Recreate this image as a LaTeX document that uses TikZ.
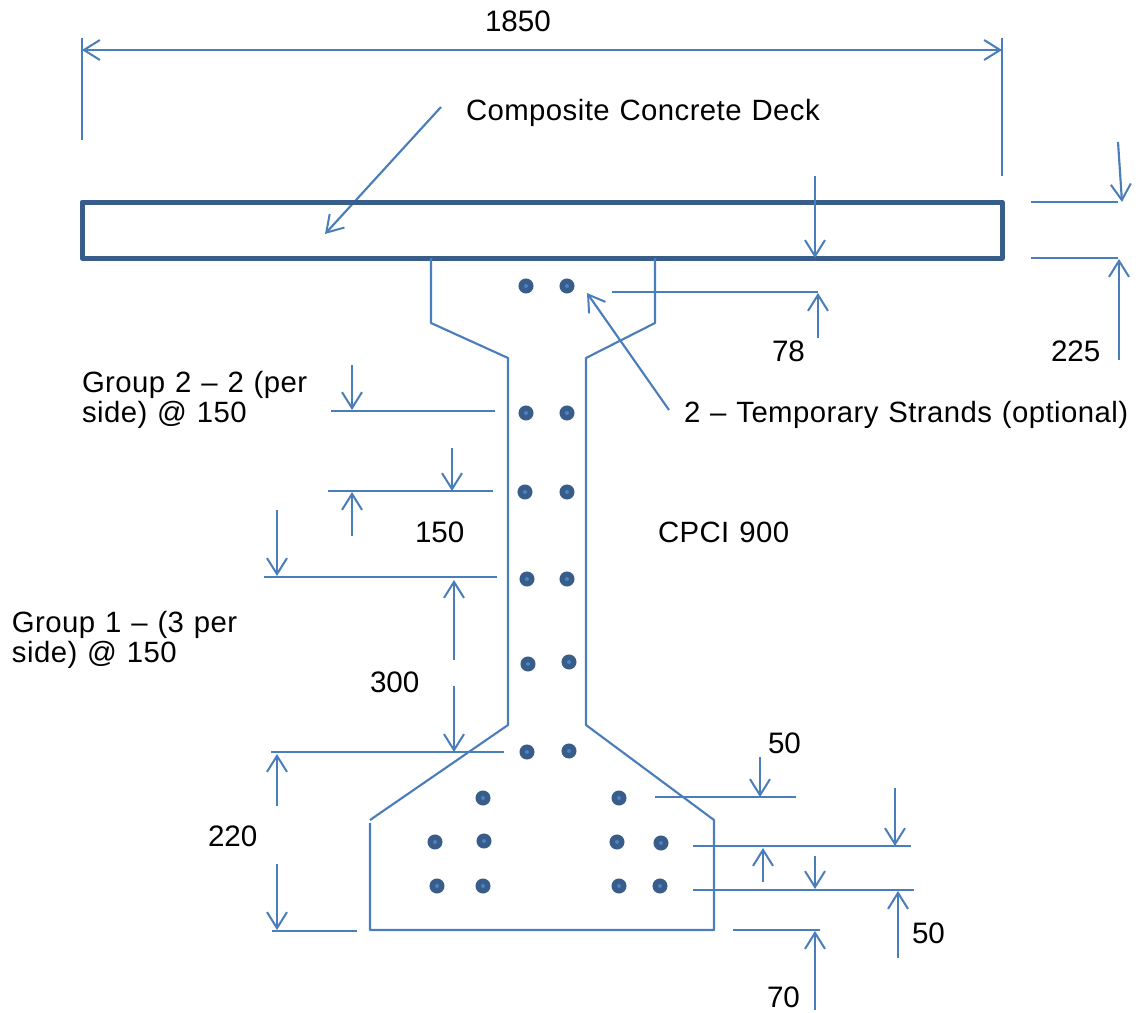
\documentclass[tikz,border=0pt]{standalone}
\usepackage{fontspec}
\setmainfont{Liberation Sans}
\newfontfamily\spacedfont[LetterSpace=1.5,WordSpace=1.15]{Liberation Sans}
\newcommand{\wordfont}{\spacedfont\fontsize{22pt}{24pt}\selectfont}
\usetikzlibrary{arrows.meta}
\definecolor{lineblue}{HTML}{4A7EBB}
\definecolor{deepblue}{HTML}{385D8A}
\definecolor{coreblue}{HTML}{4F81BD}
\tikzset{
  dimline/.style={draw=lineblue,line width=1.6pt},
  dimarrow/.style={dimline,-{Straight Barb[length=12pt,width=15pt,line width=1.5pt]}},
  dimboth/.style={dimline,{Straight Barb[length=12pt,width=15pt,line width=1.5pt]}-{Straight Barb[length=12pt,width=15pt,line width=1.5pt]}},
  deckbox/.style={draw=deepblue,line width=3.75pt,line join=round},
  numlabel/.style={anchor=base west,inner sep=0pt,outer sep=0pt,text=black,font=\fontsize{22.2pt}{24pt}\selectfont},
  wordlabel/.style={anchor=base west,inner sep=0pt,outer sep=0pt,text=black,font=\wordfont},
  strand/.style={circle,fill=deepblue,inner sep=0pt,minimum size=11.3pt},
  strandcore/.style={circle,fill=coreblue,inner sep=0pt,minimum size=3pt}
}
\newcommand{\strandat}[2]{\node[strand] at (#1,#2) {}; \node[strandcore] at (#1,#2) {};}
\begin{document}
\begin{tikzpicture}[x=0.75pt,y=-0.75pt]
\useasboundingbox (0,0) rectangle (1138,1013);
% top dimension
\draw[dimline] (82,38) -- (82,140);
\draw[dimline] (1002,38) -- (1002,176);
\draw[dimboth] (82,50) -- (1002,50);
\draw[dimarrow] (441,107) -- (325,234);
% deck
\draw[deckbox] (82,202) rectangle (1002,258);
\draw[dimarrow] (815,176) -- (815,258);
\draw[dimline] (1031,202) -- (1118,202);
\draw[dimarrow] (1118,142) -- (1122,202);
\draw[dimline] (1031,258) -- (1118,258);
\draw[dimarrow] (1119,360) -- (1119,259);
% girder outline
\draw[dimline,line join=round] (431,258) -- (431,323) -- (508,358) -- (508,725) -- (370,820);
\draw[dimline,line join=round] (370,823) -- (370,930) -- (714,930) -- (714,820) -- (586,725) -- (586,358) -- (655,323) -- (655,258);
% temporary strands
\draw[dimarrow] (669,410) -- (587,293);
\draw[dimline] (612,292) -- (818,292);
\draw[dimarrow] (818,338) -- (818,293);
% left dimensions
\draw[dimline] (331,411) -- (495,411);
\draw[dimarrow] (352,365) -- (352,410);
\draw[dimline] (328,491) -- (493,491);
\draw[dimarrow] (452,448) -- (452,491);
\draw[dimarrow] (352,536) -- (352,492);
\draw[dimline] (264,577) -- (497,577);
\draw[dimarrow] (277,510) -- (277,576);
\draw[dimarrow] (454,660) -- (454,580);
\draw[dimarrow] (454,686) -- (454,752);
\draw[dimline] (271,752) -- (504,752);
\draw[dimarrow] (277,806) -- (277,754);
\draw[dimarrow] (277,864) -- (277,930);
\draw[dimline] (272,931) -- (357,931);
% right dimensions
\draw[dimline] (655,797) -- (796,797);
\draw[dimarrow] (760,757) -- (760,797);
\draw[dimline] (693,846) -- (911,846);
\draw[dimarrow] (895,788) -- (895,846);
\draw[dimarrow] (763,882) -- (763,848);
\draw[dimline] (693,890) -- (914,890);
\draw[dimarrow] (815,856) -- (815,889);
\draw[dimarrow] (898,958) -- (898,891);
\draw[dimline] (733,930) -- (820,930);
\draw[dimarrow] (815,1010) -- (815,931);
% strands
\strandat{526}{286}\strandat{567}{286}
\strandat{526}{413}\strandat{567}{413}
\strandat{525}{492}\strandat{567}{492}
\strandat{527}{579}\strandat{567}{579}
\strandat{528}{664}\strandat{569}{662}
\strandat{527}{752}\strandat{569}{751}
\strandat{483}{798}\strandat{619}{798}
\strandat{435}{842}\strandat{484}{841}\strandat{617}{842}\strandat{661}{843}
\strandat{437}{886}\strandat{483}{886}\strandat{619}{886}\strandat{660}{886}
% labels
\node[numlabel] (t1850) at (485,32) {1850};
\node[wordlabel] (tdeck) at (466,121) {Composite Concrete Deck};
\node[numlabel] (t78) at (772,361) {78};
\node[numlabel] (t225) at (1051,361) {225};
\node[wordlabel] (tg2a) at (82,392) {Group 2 – 2 (per};
\node[wordlabel] (tg2b) at (82,422) {side) @ 150};
\node[wordlabel] (ttemp) at (684,422) {2 – Temporary Strands (optional)};
\node[numlabel] (t150) at (415,542) {150};
\node[wordlabel] (tcpci) at (658,542) {CPCI 900};
\node[wordlabel] (tg1a) at (12,632) {Group 1 – (3 per};
\node[wordlabel] (tg1b) at (12,662) {side) @ 150};
\node[numlabel] (t300) at (370,692) {300};
\node[numlabel] (t50a) at (768,753) {50};
\node[numlabel] (t220) at (208,846) {220};
\node[numlabel] (t50b) at (912,943) {50};
\node[numlabel] (t70) at (767,1007) {70};
\end{tikzpicture}
\end{document}
